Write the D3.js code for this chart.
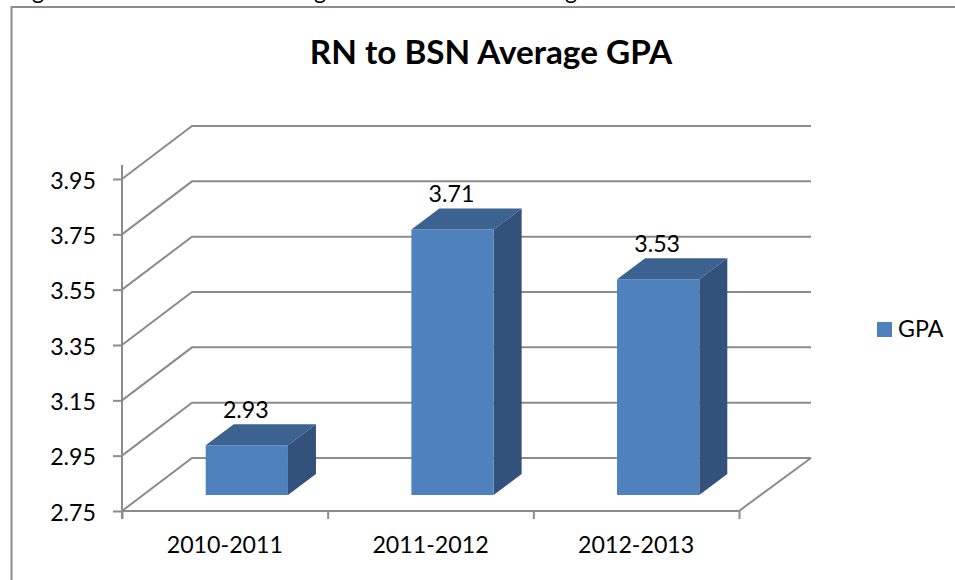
<!DOCTYPE html>
<html>
<head>
<meta charset="utf-8">
<script src="https://cdn.jsdelivr.net/npm/d3@7"></script>
<style>
  html, body { margin: 0; padding: 0; background: #fff; }
  svg { display: block; }
  text { font-family: Lato, "Open Sans", sans-serif; fill: #000; }
</style>
</head>
<body>
<svg id="chart" width="955" height="580"></svg>
<script>
const categories = ["2010-2011", "2011-2012", "2012-2013"]
const gpa = [2.93, 3.71, 3.53]
const yTicks = [2.75, 2.95, 3.15, 3.35, 3.55, 3.75, 3.95]
const labelFmt = d3.format(".2f")

const width = 955, height = 580
const gridColor = '#8c8c8c'
const labelSize = 23.2

// depth of the 3d box the chart sits in
const depthX = 70, depthY = -53
// bars stand part way into the floor
const barOffX = 22, barOffY = -16
const barDepthX = 28, barDepthY = -21

const svg = d3.select('#chart')

const y = d3.scaleLinear().domain([2.75, 3.95]).range([511, 179])
const xEdge = d3.scaleLinear().domain([0, 3]).range([122, 739])
const xBand = d3.scaleBand().domain(categories).range([122, 739])
const xBar = d3.scaleBand().domain(categories).range([122, 739])
  .paddingInner(0.6).paddingOuter(0.3)

// chart frame, the right and bottom sides are cropped out of the picture
svg.append('path')
  .attr('d', `M11.5,${height}V7H${width}`)
  .attr('fill', 'none')
  .attr('stroke', gridColor)
  .attr('stroke-width', 2)

// tails of the caption line above the chart, clipped by the page edge
svg.append('g').selectAll('text')
  .data([38, 320, 571])
  .enter()
  .append('text')
  .attr('x', d => d)
  .attr('y', -1)
  .attr('text-anchor', 'middle')
  .attr('font-size', labelSize)
  .text('g')

svg.append('text')
  .attr('x', 491)
  .attr('y', 64)
  .attr('text-anchor', 'middle')
  .attr('font-size', 33.3)
  .attr('font-weight', 'bold')
  .text('RN to BSN Average GPA')

// walls and floor
const gridG = svg.append('g')
  .attr('fill', 'none')
  .attr('stroke', gridColor)
  .attr('stroke-width', 2)

gridG.selectAll('path')
  .data(yTicks)
  .enter()
  .append('path')
  .attr('d', d => `M${xEdge(0)},${y(d)}l${depthX},${depthY}H${xEdge(3) + depthX + 2}`)

gridG.append('path')
  .attr('d', `M${xEdge(3)},${y(2.75)}L${xEdge(3) + depthX + 2},${y(2.75) + depthY}`)

// axes
const yAxis = d3.axisLeft(y)
  .tickValues(yTicks)
  .tickSize(9)
  .tickPadding(17)
  .tickFormat(labelFmt)

const yAxisG = svg.append('g').attr('transform', 'translate(122,0)').call(yAxis)
yAxisG.select('.domain').remove()
yAxisG.selectAll('line').attr('stroke', gridColor).attr('stroke-width', 2)
yAxisG.selectAll('text')
  .attr('font-size', labelSize)
  .attr('font-family', null)
  .attr('dy', '0.4em')

svg.append('line')
  .attr('x1', 122).attr('x2', 122)
  .attr('y1', y(3.95) - 14).attr('y2', y(2.75) + 8)
  .attr('stroke', gridColor)
  .attr('stroke-width', 2)

const xAxis = d3.axisBottom(xEdge)
  .tickValues([0, 1, 2, 3])
  .tickSize(8)
  .tickFormat('')

const xAxisG = svg.append('g').attr('transform', `translate(0,${y(2.75)})`).call(xAxis)
xAxisG.select('.domain').remove()
xAxisG.selectAll('line').attr('stroke', gridColor).attr('stroke-width', 2)

svg.append('line')
  .attr('x1', xEdge(0)).attr('x2', xEdge(3))
  .attr('y1', y(2.75)).attr('y2', y(2.75))
  .attr('stroke', gridColor)
  .attr('stroke-width', 2)

const xLabels = d3.axisBottom(xBand).tickSize(0).tickPadding(26)
const xLabelsG = svg.append('g').attr('transform', `translate(0,${y(2.75)})`).call(xLabels)
xLabelsG.select('.domain').remove()
xLabelsG.selectAll('text').attr('font-size', labelSize).attr('font-family', null)

// bars
const bars = svg.append('g').selectAll('g')
  .data(categories.map((c, i) => ({ cat: c, val: gpa[i] })))
  .enter()
  .append('g')
  .attr('transform', `translate(${barOffX},${barOffY})`)

const barW = xBar.bandwidth()

bars.append('path')
  .attr('fill', '#3c6290')
  .attr('d', d => `M${xBar(d.cat)},${y(d.val)}l${barDepthX},${barDepthY}h${barW}l${-barDepthX},${-barDepthY}z`)

bars.append('path')
  .attr('fill', '#32527c')
  .attr('d', d => `M${xBar(d.cat) + barW},${y(d.val)}l${barDepthX},${barDepthY}V${y(2.75) + barDepthY}l${-barDepthX},${-barDepthY}z`)

bars.append('rect')
  .attr('fill', '#4f81bd')
  .attr('x', d => xBar(d.cat))
  .attr('y', d => y(d.val))
  .attr('width', barW)
  .attr('height', d => y(2.75) - y(d.val))

bars.append('text')
  .attr('x', d => xBar(d.cat) + barW / 2 - 1)
  .attr('y', d => y(d.val) - 27)
  .attr('text-anchor', 'middle')
  .attr('font-size', labelSize)
  .text(d => labelFmt(d.val))

// legend
const legendG = svg.append('g')
legendG.append('rect')
  .attr('x', 877).attr('y', 322)
  .attr('width', 15).attr('height', 15)
  .attr('fill', '#4f81bd')
legendG.append('text')
  .attr('x', 898).attr('y', 337)
  .attr('font-size', labelSize)
  .text('GPA')
</script>
</body>
</html>
